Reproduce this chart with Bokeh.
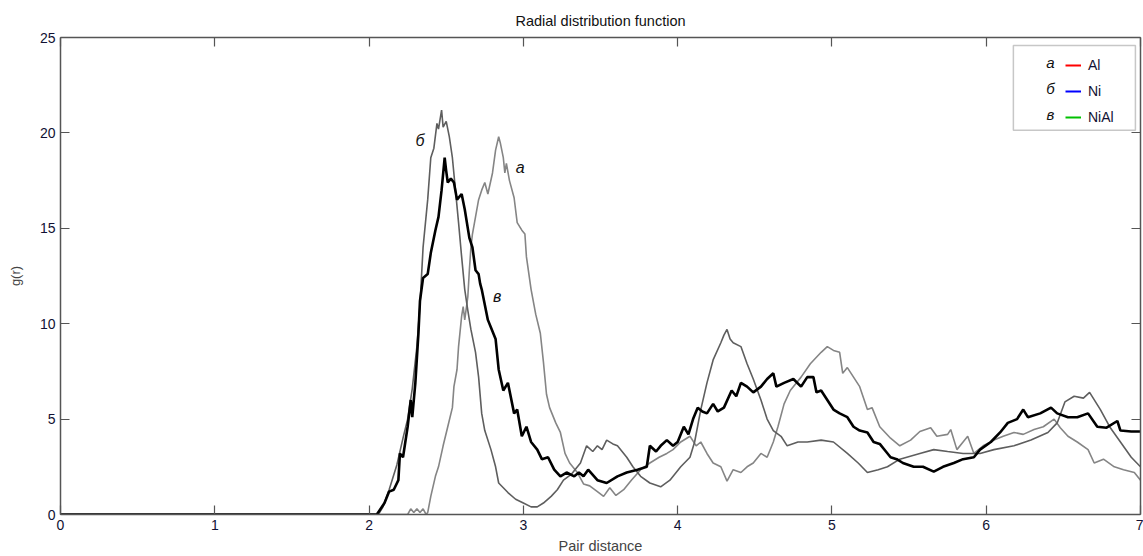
from bokeh.plotting import figure
from bokeh.models import Range1d, FixedTicker, LinearAxis, Label, Legend, LegendItem, BoxAnnotation
from bokeh.embed import file_html
from bokeh.resources import INLINE

# ---------------- data ----------------
x_ticks = [0, 1, 2, 3, 4, 5, 6, 7]
y_ticks = [0, 5, 10, 15, 20, 25]

# curve "в" : NiAl (thick black)
niai_x = [0.00, 2.05, 2.10, 2.13, 2.16, 2.19, 2.20, 2.22, 2.25, 2.27, 2.28, 2.30, 2.32, 2.33, 2.35, 2.38,
          2.40, 2.43, 2.45, 2.47, 2.49, 2.50, 2.51, 2.53, 2.55, 2.57, 2.60, 2.62, 2.65, 2.67, 2.69, 2.71,
          2.72, 2.73, 2.77, 2.79, 2.82, 2.84, 2.87, 2.90, 2.94, 2.96, 2.99, 3.02, 3.05, 3.09, 3.12, 3.16,
          3.20, 3.24, 3.28, 3.33, 3.36, 3.39, 3.42, 3.48, 3.54, 3.61, 3.67, 3.74, 3.80, 3.82, 3.86, 3.89,
          3.93, 3.97, 4.00, 4.04, 4.07, 4.10, 4.13, 4.16, 4.19, 4.23, 4.26, 4.30, 4.35, 4.38, 4.41, 4.45,
          4.49, 4.54, 4.58, 4.62, 4.64, 4.69, 4.75, 4.80, 4.84, 4.88, 4.90, 4.93, 4.97, 5.01, 5.05, 5.10,
          5.14, 5.18, 5.23, 5.27, 5.31, 5.35, 5.38, 5.42, 5.46, 5.53, 5.59, 5.66, 5.72, 5.79, 5.85, 5.92,
          5.96, 6.03, 6.09, 6.14, 6.20, 6.24, 6.27, 6.35, 6.42, 6.46, 6.53, 6.59, 6.66, 6.72, 6.78, 6.85,
          6.87, 6.94, 7.00]
niai_y = [0.0, 0.0, 0.6, 1.2, 1.3, 1.8, 3.2, 3.0, 4.6, 6.0, 5.1, 6.9, 9.5, 11.2, 12.4, 12.6,
          13.7, 14.9, 15.6, 17.0, 18.7, 18.0, 17.4, 17.6, 17.4, 16.5, 16.8, 16.0, 14.5, 14.0, 12.8, 12.6,
          12.1, 11.8, 10.2, 9.8, 9.2, 7.6, 6.5, 6.9, 5.3, 5.5, 4.1, 4.6, 3.8, 3.4, 2.9, 3.0,
          2.35, 2.0, 2.2, 2.0, 2.2, 2.0, 2.35, 1.8, 1.65, 2.0, 2.2, 2.35, 2.5, 3.6, 3.3, 3.6,
          3.9, 3.6, 3.8, 4.6, 4.2, 5.0, 5.6, 5.4, 5.3, 5.8, 5.4, 5.6, 6.5, 6.2, 6.9, 6.7,
          6.4, 6.7, 7.1, 7.4, 6.7, 6.9, 7.1, 6.7, 7.2, 7.2, 6.4, 6.5, 6.0, 5.5, 5.3, 5.1,
          4.6, 4.4, 4.3, 3.8, 3.7, 3.3, 3.0, 2.9, 2.7, 2.5, 2.5, 2.25, 2.5, 2.7, 2.9, 3.0,
          3.4, 3.8, 4.3, 4.8, 5.0, 5.5, 5.1, 5.3, 5.6, 5.3, 5.1, 5.1, 5.3, 4.6, 4.55, 4.9,
          4.4, 4.35, 4.35]

# curve "б" : Ni (dark grey)
ni_x = [0.00, 2.06, 2.09, 2.13, 2.18, 2.22, 2.25, 2.28, 2.31, 2.33, 2.35, 2.38, 2.40, 2.42, 2.44, 2.45,
        2.47, 2.48, 2.50, 2.52, 2.54, 2.56, 2.58, 2.60, 2.62, 2.64, 2.66, 2.69, 2.71, 2.73, 2.75, 2.79,
        2.82, 2.84, 2.90, 2.95, 3.00, 3.05, 3.09, 3.13, 3.18, 3.22, 3.26, 3.31, 3.37, 3.41, 3.45, 3.48,
        3.51, 3.54, 3.58, 3.61, 3.67, 3.71, 3.76, 3.82, 3.89, 3.95, 4.02, 4.08, 4.11, 4.15, 4.19, 4.23,
        4.28, 4.30, 4.32, 4.34, 4.36, 4.41, 4.45, 4.49, 4.54, 4.58, 4.62, 4.67, 4.71, 4.78, 4.84, 4.93,
        5.01, 5.10, 5.17, 5.23, 5.30, 5.36, 5.44, 5.57, 5.66, 5.75, 5.85, 5.96, 6.05, 6.18, 6.29, 6.40,
        6.46, 6.51, 6.57, 6.63, 6.67, 6.74, 6.80, 6.87, 6.94, 7.00]
ni_y = [0.0, 0.0, 0.4, 1.3, 2.6, 4.0, 5.0, 6.6, 8.8, 11.0, 14.0, 16.5, 18.7, 19.2, 20.5, 20.2,
        21.2, 20.3, 20.6, 19.8, 18.7, 17.0, 15.3, 13.5, 11.8, 10.7, 9.7, 8.5, 7.2, 5.3, 4.4, 3.4,
        2.5, 1.65, 1.15, 0.8, 0.6, 0.4, 0.4, 0.6, 0.95, 1.3, 1.8, 2.1, 2.7, 3.6, 3.3, 3.6,
        3.4, 3.9, 3.7, 3.6, 3.0, 2.5, 2.0, 1.65, 1.45, 1.8, 2.5, 3.0, 3.8, 5.5, 6.9, 8.1,
        9.0, 9.4, 9.7, 9.2, 9.0, 8.8, 7.9, 7.1, 6.0, 5.0, 4.4, 4.1, 3.6, 3.8, 3.8, 3.9,
        3.8, 3.2, 2.7, 2.2, 2.35, 2.5, 2.9, 3.2, 3.4, 3.3, 3.2, 3.2, 3.4, 3.6, 3.9, 4.3,
        4.8, 5.9, 6.2, 6.1, 6.4, 5.5, 4.6, 3.8, 3.0, 2.5]

# curve "а" : Al (lighter grey)
al_x = [0.00, 2.25, 2.27, 2.29, 2.31, 2.33, 2.35, 2.37, 2.38, 2.40, 2.43, 2.45, 2.48, 2.51, 2.54, 2.55,
        2.57, 2.58, 2.60, 2.61, 2.62, 2.64, 2.65, 2.66, 2.67, 2.69, 2.71, 2.73, 2.75, 2.77, 2.80, 2.82,
        2.84, 2.85, 2.87, 2.88, 2.89, 2.91, 2.94, 2.96, 2.99, 3.01, 3.02, 3.05, 3.08, 3.11, 3.13, 3.15,
        3.17, 3.21, 3.24, 3.27, 3.30, 3.35, 3.39, 3.43, 3.48, 3.52, 3.56, 3.60, 3.65, 3.70, 3.76, 3.82,
        3.88, 3.93, 3.97, 4.02, 4.08, 4.12, 4.15, 4.19, 4.23, 4.28, 4.32, 4.36, 4.41, 4.45, 4.49, 4.54,
        4.58, 4.62, 4.65, 4.69, 4.73, 4.80, 4.86, 4.93, 4.97, 5.01, 5.05, 5.07, 5.10, 5.14, 5.18, 5.23,
        5.26, 5.31, 5.38, 5.44, 5.51, 5.57, 5.64, 5.68, 5.75, 5.77, 5.81, 5.85, 5.88, 5.92, 5.98, 6.05,
        6.11, 6.18, 6.24, 6.31, 6.37, 6.44, 6.48, 6.53, 6.59, 6.66, 6.70, 6.76, 6.83, 6.89, 6.96, 7.00]
al_y = [0.0, 0.0, 0.3, 0.1, 0.3, 0.1, 0.3, 0.0, 0.1, 0.95, 2.0, 2.5, 3.6, 4.6, 5.6, 6.7,
        7.6, 8.8, 10.4, 10.9, 10.2, 11.4, 12.8, 14.0, 14.7, 15.6, 16.5, 17.0, 17.4, 16.8, 17.9, 19.1,
        19.8, 19.5, 18.7, 17.9, 18.4, 17.5, 16.6, 15.3, 14.9, 14.7, 13.5, 11.8, 10.5, 9.5, 8.0, 6.3,
        5.6, 4.8, 4.3, 3.2, 2.7, 2.2, 1.6, 1.5, 1.2, 0.95, 1.4, 1.0, 1.3, 1.8, 2.35, 2.7,
        3.0, 3.2, 3.4, 3.8, 4.1, 3.6, 3.8, 3.2, 2.7, 2.5, 1.75, 2.35, 2.2, 2.5, 2.7, 3.2,
        3.0, 3.8, 4.6, 5.8, 6.5, 7.2, 7.9, 8.5, 8.8, 8.6, 8.5, 7.4, 7.7, 7.2, 6.7, 5.5,
        5.6, 4.6, 4.0, 3.6, 3.9, 4.35, 4.55, 4.1, 4.2, 4.45, 3.4, 3.8, 4.1, 3.2, 3.6, 3.9,
        4.1, 4.3, 4.2, 4.45, 4.6, 5.0, 4.55, 4.1, 3.8, 3.4, 2.7, 2.9, 2.5, 2.35, 2.2, 1.8]

legend_letters = ["a", "б", "в"]
legend_names = ["Al", "Ni", "NiAl"]
legend_colors = ["#ff0000", "#0000ff", "#00c000"]

# ---------------- figure ----------------
FONT = "Liberation Sans"
p = figure(width=1143, height=556, output_backend="svg", toolbar_location=None,
           x_range=Range1d(0, 7), y_range=Range1d(0, 25),
           min_border_left=60, min_border_right=3, min_border_top=37, min_border_bottom=41,
           title="Radial distribution function",
           x_axis_label="Pair distance", y_axis_label="g(r)")
p.grid.visible = False
p.outline_line_color = None
p.title.align = "center"
p.title.text_font = FONT
p.title.text_font_style = "normal"
p.title.text_font_size = "14.5px"
p.title.text_color = "#111111"
p.title.standoff = 17

AX_COL = "#555555"


def style_axis(ax, ticks, show_labels):
    ax.ticker = FixedTicker(ticks=ticks)
    ax.axis_line_color = AX_COL
    ax.axis_line_width = 1.5
    ax.major_tick_line_color = AX_COL
    ax.major_tick_line_width = 1.2
    ax.major_tick_in = 9
    ax.major_tick_out = 0
    ax.minor_tick_line_color = None
    ax.major_label_text_font = FONT
    if show_labels:
        ax.major_label_text_color = "#111133"
        ax.major_label_text_font_size = "14px"
        ax.major_label_standoff = 5
    else:
        ax.major_label_text_color = None
        ax.major_label_text_font_size = "1px"
        ax.major_label_standoff = 0


style_axis(p.xaxis[0], x_ticks, True)
style_axis(p.yaxis[0], y_ticks, True)
p.xaxis[0].axis_label_text_font = FONT
p.xaxis[0].axis_label_text_font_style = "normal"
p.xaxis[0].axis_label_text_font_size = "14.5px"
p.xaxis[0].axis_label_standoff = 5
p.yaxis[0].axis_label_text_font = FONT
p.yaxis[0].axis_label_text_font_style = "normal"
p.yaxis[0].axis_label_text_font_size = "13px"
p.yaxis[0].axis_label_standoff = 14

top_ax = LinearAxis()
style_axis(top_ax, x_ticks, False)
p.add_layout(top_ax, "above")
right_ax = LinearAxis()
style_axis(right_ax, y_ticks, False)
p.add_layout(right_ax, "right")

# ---------------- curves ----------------
p.line(al_x, al_y, line_color="#858585", line_width=1.6)
p.line(ni_x, ni_y, line_color="#5e5e5e", line_width=1.6)
p.line(niai_x, niai_y, line_color="#000000", line_width=2.6)

# labels on curves
for txt, lx, ly in [("б", 2.33, 19.6), ("a", 2.98, 18.2), ("в", 2.83, 11.4)]:
    p.add_layout(Label(x=lx, y=ly, text=txt, text_font=FONT, text_font_style="italic",
                       text_font_size="16px", text_align="center", text_baseline="middle",
                       text_color="#111111"))

# ---------------- legend ----------------
box = BoxAnnotation(left=6.176, right=6.967, top=24.58, bottom=20.14,
                    fill_color="white", fill_alpha=1.0, line_color="#444444", line_width=1.5)
p.add_layout(box)

items = []
nan = float("nan")
for name, col in zip(legend_names, legend_colors):
    r = p.line(x=[nan], y=[nan], line_color=col, line_width=2)
    items.append(LegendItem(label=name, renderers=[r]))
leg = Legend(items=items, location=(1005, 387), margin=0, padding=4, spacing=6,
             glyph_width=16, glyph_height=20, label_height=20, label_standoff=7,
             label_text_font=FONT, label_text_font_size="14px", label_text_color="#111133",
             border_line_color=None, background_fill_alpha=0)
p.add_layout(leg)

for txt, ly in zip(legend_letters, [23.69, 22.33, 20.97]):
    p.add_layout(Label(x=6.416, y=ly, text=txt, text_font=FONT, text_font_style="italic",
                       text_font_size="15px", text_align="center", text_baseline="middle",
                       text_color="#111111"))

open("out.html", "w").write(file_html(p, INLINE))
